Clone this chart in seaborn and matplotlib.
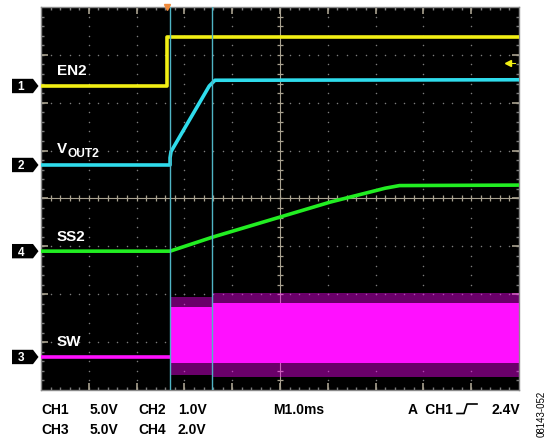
import numpy as np
import pandas as pd
import matplotlib
matplotlib.use("Agg")
import matplotlib.pyplot as plt
import seaborn as sns
from matplotlib.patches import Polygon
from matplotlib.lines import Line2D
import matplotlib.transforms as mtransforms

# ---------------- data (time: ms from left edge of screen, values in volts) ----
en2_t = [0.0, 2.64, 2.64, 10.0]
en2_v = [0.0, 0.0, 5.1, 5.1]

vout2_t = [0.0, 2.70, 2.70, 2.72, 3.52, 3.64, 10.0]
vout2_v = [0.0, 0.0, 0.15, 0.28, 1.65, 1.77, 1.78]

ss2_t = [0.0, 2.70, 3.58, 6.05, 7.20, 7.50, 10.0]
ss2_v = [0.0, 0.0, 0.58, 2.05, 2.63, 2.74, 2.76]

sw_t = [0.0, 2.70]
sw_v = [0.0, 0.0]
sw_band_t = [2.70, 3.58, 3.58, 10.0]
sw_band_hi = [5.2, 5.2, 5.6, 5.6]
sw_band_lo = [-0.6, -0.6, -0.6, -0.6]
sw_spike_hi = [6.3, 6.3, 6.7, 6.7]
sw_spike_lo = [-1.9, -1.9, -2.1, -2.1]

cursor_t = [2.70, 3.58]
trigger_t = 2.64
trigger_level = 2.4

signal_names = ["EN2", "VOUT2", "SS2", "SW"]
channel_ids = ["1", "2", "4", "3"]
volts_per_div = [5.0, 1.0, 2.0, 5.0]

# ---------------- styles / positions ----------------
ground_div = {"EN2": 6.35, "VOUT2": 4.70, "SS2": 2.90, "SW": 0.69}
colors = {"EN2": "#f2ef14", "VOUT2": "#2fdcec", "SS2": "#22ee22", "SW": "#ff10ff"}
scale = dict(zip(signal_names, volts_per_div))

def to_div(name, v):
    return ground_div[name] + np.asarray(v) / scale[name]

W, H, DPI = 551, 440, 100
fig = plt.figure(figsize=(W / DPI, H / DPI), dpi=DPI, facecolor="white")
L, R, T, B = 41, 519, 7, 390
ax = fig.add_axes([L / W, 1 - B / H, (R - L) / W, (B - T) / H])
ax.set_facecolor("black")
ax.set_xlim(0, 10)
ax.set_ylim(0, 8)

grid_c = "#7c7c7c"
# dotted graticule
minor = np.arange(0.2, 10.0, 0.2)
minor_y = np.arange(0.2, 8.0, 0.2)
for xi in [1, 2, 3, 4, 6, 7, 8, 9]:
    ax.scatter(np.full_like(minor_y, xi), minor_y, s=1.2, c=grid_c, lw=0, zorder=1)
for yi in [1, 2, 3, 5, 6, 7]:
    ax.scatter(minor, np.full_like(minor, yi), s=1.2, c=grid_c, lw=0, zorder=1)
# center crosshair with ticks
cc = "#a9a290"
ax.axvline(5, color=cc, lw=0.8, zorder=1)
ax.axhline(4, color=cc, lw=0.8, zorder=1)
ax.plot(minor, np.full_like(minor, 4), ls="none", marker="|", ms=5, mew=0.9, color=cc, zorder=1)
ax.plot(np.full_like(minor_y, 5), minor_y, ls="none", marker="_", ms=5, mew=0.9, color=cc, zorder=1)
# border ticks
major_x = np.arange(1, 10)
major_y = np.arange(1, 8)
for yb in [0, 8]:
    ax.plot(minor, np.full_like(minor, yb), ls="none", marker="|", ms=4, mew=1.0, color=grid_c, zorder=1)
    ax.plot(major_x, np.full_like(major_x, yb, dtype=float), ls="none", marker="|", ms=10, mew=1.2, color=cc, zorder=1)
for xb in [0, 10]:
    ax.plot(np.full_like(minor_y, xb), minor_y, ls="none", marker="_", ms=4, mew=1.0, color=grid_c, zorder=1)
    ax.plot(np.full_like(major_y, xb, dtype=float), major_y, ls="none", marker="_", ms=10, mew=1.2, color=cc, zorder=1)

# SW switching band
ax.fill_between(sw_band_t, to_div("SW", sw_spike_lo), to_div("SW", sw_spike_hi),
                color="#ff00ff", alpha=0.42, lw=0, zorder=2)
ax.fill_between(sw_band_t, to_div("SW", sw_band_lo), to_div("SW", sw_band_hi),
                color=colors["SW"], lw=0, zorder=2)

# traces via seaborn
frames = []
for name, t, v in [("SW", sw_t, sw_v), ("SS2", ss2_t, ss2_v),
                   ("VOUT2", vout2_t, vout2_v), ("EN2", en2_t, en2_v)]:
    frames.append(pd.DataFrame({"t": t, "y": to_div(name, v), "signal": name}))
df = pd.concat(frames, ignore_index=True)
sns.lineplot(data=df, x="t", y="y", hue="signal", palette=colors, sort=False,
             estimator=None, units="signal", legend=False, lw=2.6, ax=ax, zorder=3)

# cursors
for ct in cursor_t:
    ax.axvline(ct, color="#4fb4c4", lw=1.0, zorder=4)

# trigger markers
ax.plot([trigger_t], [8], marker="v", ms=5, color="#f08a3c", clip_on=False, zorder=6)
trig_div = to_div("EN2", trigger_level)
ax.plot([9.78], [trig_div], marker="<", ms=4, color=colors["EN2"], zorder=5)
ax.plot([9.78, 9.92], [trig_div, trig_div], color=colors["EN2"], lw=0.8, zorder=5)

ax.set_xticks([])
ax.set_yticks([])
ax.set_xlabel("")
ax.set_ylabel("")
for s in ax.spines.values():
    s.set_color("#8a8a8a")
    s.set_linewidth(1.0)

# trace labels
lab = dict(color="white", fontweight="bold", family="Liberation Sans", zorder=7)
ax.text(0.33, 6.58, "EN2", fontsize=11, va="baseline", **lab)
ax.text(0.34, 4.95, "V", fontsize=11, va="baseline", **lab)
ax.text(0.56, 4.87, "OUT2", fontsize=8.6, va="baseline", **lab)
ax.text(0.33, 3.11, "SS2", fontsize=11, va="baseline", **lab)
ax.text(0.33, 0.92, "SW", fontsize=11, va="baseline", **lab)

# channel markers (outside the screen)
blend = mtransforms.blended_transform_factory(fig.transFigure, ax.transData)
for name, cid in zip(signal_names, channel_ids):
    yc = ground_div[name]
    h = 0.15
    poly = Polygon([(12 / W, yc - h), (33 / W, yc - h), (38.5 / W, yc),
                    (33 / W, yc + h), (12 / W, yc + h)], closed=True,
                   transform=blend, facecolor="black", edgecolor="none", clip_on=False)
    fig.patches.append(poly)
    fig.text(21 / W, yc, cid, transform=blend, color="white", fontsize=8.5,
             fontweight="bold", family="Liberation Sans", ha="center", va="center_baseline")

# bottom read-out
def ftext(px, py, s, **kw):
    fig.text(px / W, 1 - py / H, s, fontsize=10, fontweight="bold",
             family="Liberation Sans", color="black", va="baseline", **kw)

ftext(41, 414, "CH1")
ftext(90, 414, "5.0V")
ftext(138, 414, "CH2")
ftext(178, 414, "1.0V")
ftext(273, 414, "M1.0ms")
ftext(408, 414, "A  CH1")
ftext(520, 414, "2.4V", ha="right")
ftext(41, 434, "CH3")
ftext(90, 434, "5.0V")
ftext(138, 434, "CH4")
ftext(178, 434, "2.0V")
# rising-edge trigger symbol
xs = np.array([457, 464, 467, 477]) / W
ys = 1 - np.array([413.5, 413.5, 404, 404]) / H
fig.lines.append(Line2D(xs, ys, transform=fig.transFigure, color="black", lw=1.2))

fig.text(542 / W, 1 - 414 / H, "08143-052", rotation=90, fontsize=7,
         family="Liberation Sans", ha="center", va="center", color="black")

fig.savefig("out.png", dpi=DPI, facecolor="white")
